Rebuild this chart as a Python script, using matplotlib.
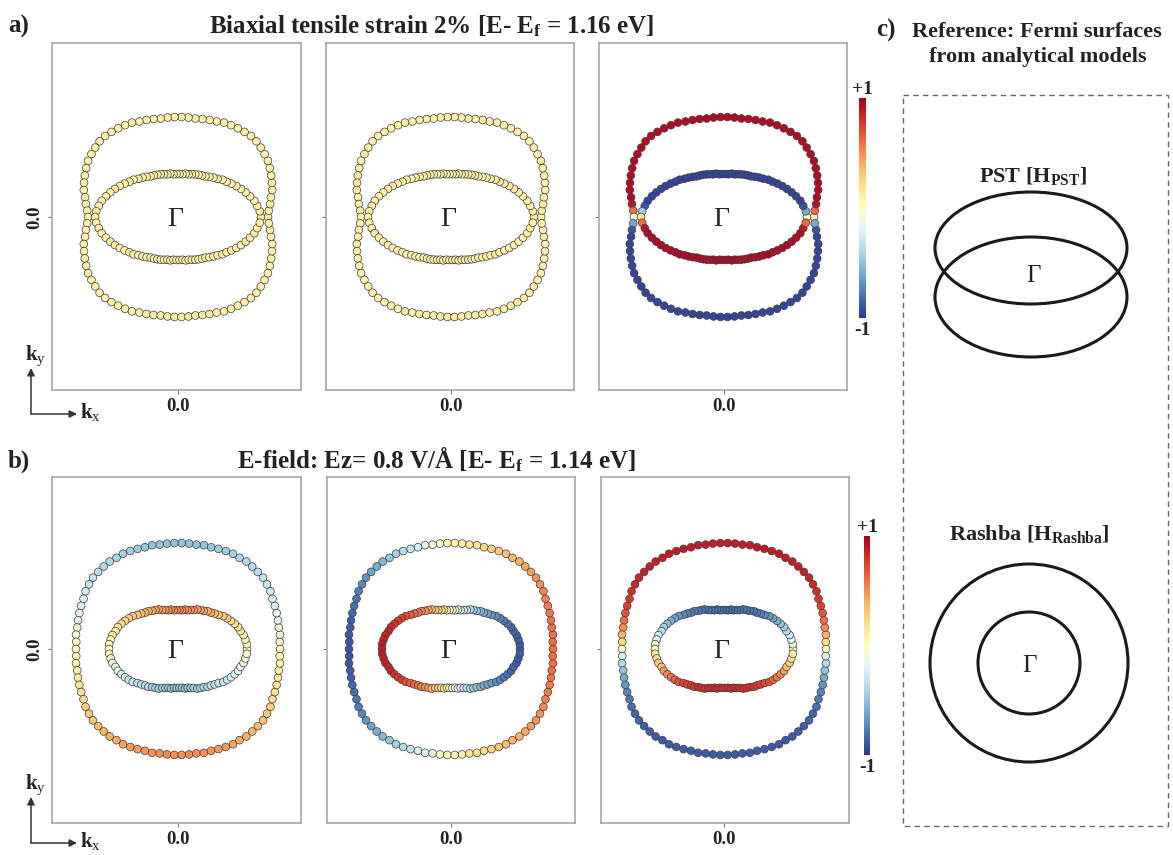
import numpy as np
import matplotlib
matplotlib.use("Agg")
import matplotlib.pyplot as plt
from matplotlib.colors import Normalize
from matplotlib.cm import ScalarMappable
from matplotlib.patches import Ellipse, Circle, Rectangle

plt.rcParams["font.family"] = ["Liberation Serif", "DejaVu Serif"]
plt.rcParams["mathtext.fontset"] = "custom"
plt.rcParams["mathtext.rm"] = "Liberation Serif"
plt.rcParams["mathtext.bf"] = "Liberation Serif:bold"
plt.rcParams["mathtext.it"] = "Liberation Serif:italic"

# ---------------------------------------------------------------------------
# Constant-energy contours: |k| sampled along an angular k-path (degrees)
# ---------------------------------------------------------------------------
k_angle_deg = np.arange(0, 360, 4)

# (a) biaxial tensile strain 2 %
kr_strain_outer = [
    0.90, 0.91, 0.93, 0.95, 0.98, 1.00, 1.02, 1.04, 1.06, 1.07, 1.08, 1.09, 1.09, 1.08, 1.07, 1.06, 1.05, 1.03, 1.02, 1.01, 1.00, 1.00, 1.00,
    1.00, 1.00, 1.00, 1.01, 1.02, 1.03, 1.05, 1.06, 1.07, 1.08, 1.09, 1.09, 1.08, 1.07, 1.06, 1.04, 1.02, 1.00, 0.98, 0.95, 0.93, 0.91,
    0.90, 0.91, 0.93, 0.95, 0.98, 1.00, 1.02, 1.04, 1.06, 1.07, 1.08, 1.09, 1.09, 1.08, 1.07, 1.06, 1.05, 1.03, 1.02, 1.01, 1.00, 1.00, 1.00,
    1.00, 1.00, 1.00, 1.01, 1.02, 1.03, 1.05, 1.06, 1.07, 1.08, 1.09, 1.09, 1.08, 1.07, 1.06, 1.04, 1.02, 1.00, 0.98, 0.95, 0.93, 0.91]
kr_strain_inner = [
    0.83, 0.82, 0.80, 0.78, 0.75, 0.72, 0.69, 0.66, 0.63, 0.60, 0.58, 0.55, 0.53, 0.51, 0.49, 0.48, 0.47, 0.46, 0.45, 0.44, 0.44, 0.43, 0.43,
    0.43, 0.43, 0.44, 0.44, 0.45, 0.46, 0.47, 0.48, 0.49, 0.51, 0.53, 0.55, 0.58, 0.60, 0.63, 0.66, 0.69, 0.72, 0.75, 0.78, 0.80, 0.82,
    0.83, 0.82, 0.80, 0.78, 0.75, 0.72, 0.69, 0.66, 0.63, 0.60, 0.58, 0.55, 0.53, 0.51, 0.49, 0.48, 0.47, 0.46, 0.45, 0.44, 0.44, 0.43, 0.43,
    0.43, 0.43, 0.44, 0.44, 0.45, 0.46, 0.47, 0.48, 0.49, 0.51, 0.53, 0.55, 0.58, 0.60, 0.63, 0.66, 0.69, 0.72, 0.75, 0.78, 0.80, 0.82]

# (b) out-of-plane electric field Ez = 0.8 V/A
kr_field_outer = [
    1.02, 1.02, 1.03, 1.03, 1.04, 1.05, 1.06, 1.07, 1.09, 1.10, 1.11, 1.11, 1.11, 1.11, 1.10, 1.10, 1.09, 1.08, 1.07, 1.07, 1.06, 1.06, 1.06,
    1.06, 1.06, 1.06, 1.07, 1.07, 1.08, 1.09, 1.10, 1.10, 1.11, 1.11, 1.11, 1.11, 1.10, 1.09, 1.07, 1.06, 1.05, 1.04, 1.03, 1.03, 1.02,
    1.02, 1.02, 1.03, 1.03, 1.04, 1.05, 1.06, 1.07, 1.09, 1.10, 1.11, 1.11, 1.11, 1.11, 1.10, 1.10, 1.09, 1.08, 1.07, 1.07, 1.06, 1.06, 1.06,
    1.06, 1.06, 1.06, 1.07, 1.07, 1.08, 1.09, 1.10, 1.10, 1.11, 1.11, 1.11, 1.11, 1.10, 1.09, 1.07, 1.06, 1.05, 1.04, 1.03, 1.03, 1.02]
kr_field_inner = [
    0.69, 0.69, 0.68, 0.67, 0.65, 0.64, 0.62, 0.60, 0.58, 0.56, 0.53, 0.51, 0.49, 0.48, 0.46, 0.45, 0.44, 0.42, 0.41, 0.40, 0.40, 0.39, 0.39,
    0.39, 0.39, 0.40, 0.40, 0.41, 0.42, 0.44, 0.45, 0.46, 0.48, 0.49, 0.51, 0.53, 0.56, 0.58, 0.60, 0.62, 0.64, 0.65, 0.67, 0.68, 0.69,
    0.69, 0.69, 0.68, 0.67, 0.65, 0.64, 0.62, 0.60, 0.58, 0.56, 0.53, 0.51, 0.49, 0.48, 0.46, 0.45, 0.44, 0.42, 0.41, 0.40, 0.40, 0.39, 0.39,
    0.39, 0.39, 0.40, 0.40, 0.41, 0.42, 0.44, 0.45, 0.46, 0.48, 0.49, 0.51, 0.53, 0.56, 0.58, 0.60, 0.62, 0.64, 0.65, 0.67, 0.68, 0.69]

# ---------------------------------------------------------------------------
# Spin expectation values along the same k-path
# ---------------------------------------------------------------------------
# (a) in-plane components are quenched (persistent spin texture)
s_inplane_strain = [
    0.10, 0.10, 0.10, 0.10, 0.10, 0.10, 0.10, 0.10, 0.10, 0.10, 0.10, 0.10, 0.10, 0.10, 0.10,
    0.10, 0.10, 0.10, 0.10, 0.10, 0.10, 0.10, 0.10, 0.10, 0.10, 0.10, 0.10, 0.10, 0.10, 0.10,
    0.10, 0.10, 0.10, 0.10, 0.10, 0.10, 0.10, 0.10, 0.10, 0.10, 0.10, 0.10, 0.10, 0.10, 0.10,
    0.10, 0.10, 0.10, 0.10, 0.10, 0.10, 0.10, 0.10, 0.10, 0.10, 0.10, 0.10, 0.10, 0.10, 0.10,
    0.10, 0.10, 0.10, 0.10, 0.10, 0.10, 0.10, 0.10, 0.10, 0.10, 0.10, 0.10, 0.10, 0.10, 0.10,
    0.10, 0.10, 0.10, 0.10, 0.10, 0.10, 0.10, 0.10, 0.10, 0.10, 0.10, 0.10, 0.10, 0.10, 0.10]
sz_strain_outer = [
    0.10, 0.60, 0.90,
    0.95, 0.95, 0.95, 0.95, 0.95, 0.95, 0.95, 0.95, 0.95, 0.95,
    0.95, 0.95, 0.95, 0.95, 0.95, 0.95, 0.95, 0.95, 0.95, 0.95,
    0.95, 0.95, 0.95, 0.95, 0.95, 0.95, 0.95, 0.95, 0.95, 0.95,
    0.95, 0.95, 0.95, 0.95, 0.95, 0.95, 0.95, 0.95, 0.95, 0.95,
    0.90, 0.60, -0.10, -0.60, -0.90,
    -0.95, -0.95, -0.95, -0.95, -0.95, -0.95, -0.95, -0.95, -0.95, -0.95,
    -0.95, -0.95, -0.95, -0.95, -0.95, -0.95, -0.95, -0.95, -0.95, -0.95,
    -0.95, -0.95, -0.95, -0.95, -0.95, -0.95, -0.95, -0.95, -0.95, -0.95,
    -0.95, -0.95, -0.95, -0.95, -0.95, -0.95, -0.95, -0.95, -0.95, -0.95,
    -0.90, -0.60]
sz_strain_inner = [
    -0.10, -0.60, -0.90,
    -0.95, -0.95, -0.95, -0.95, -0.95, -0.95, -0.95, -0.95, -0.95, -0.95,
    -0.95, -0.95, -0.95, -0.95, -0.95, -0.95, -0.95, -0.95, -0.95, -0.95,
    -0.95, -0.95, -0.95, -0.95, -0.95, -0.95, -0.95, -0.95, -0.95, -0.95,
    -0.95, -0.95, -0.95, -0.95, -0.95, -0.95, -0.95, -0.95, -0.95, -0.95,
    -0.90, -0.45, 0.15, 0.60, 0.90,
    0.95, 0.95, 0.95, 0.95, 0.95, 0.95, 0.95, 0.95, 0.95, 0.95,
    0.95, 0.95, 0.95, 0.95, 0.95, 0.95, 0.95, 0.95, 0.95, 0.95,
    0.95, 0.95, 0.95, 0.95, 0.95, 0.95, 0.95, 0.95, 0.95, 0.95,
    0.95, 0.95, 0.95, 0.95, 0.95, 0.95, 0.95, 0.95, 0.95, 0.95,
    0.90, 0.60]

# (b) Rashba-like spin texture
sx_field_outer = [
    0.00, -0.04, -0.07, -0.10, -0.14, -0.17, -0.20, -0.23, -0.27, -0.29, -0.32, -0.35, -0.37, -0.39, -0.41, -0.43, -0.45, -0.46, -0.48, -0.49, -0.49, -0.50, -0.50,
    -0.50, -0.50, -0.49, -0.49, -0.48, -0.46, -0.45, -0.43, -0.41, -0.39, -0.37, -0.35, -0.32, -0.29, -0.27, -0.23, -0.20, -0.17, -0.14, -0.10, -0.07, -0.04,
    0.00, 0.04, 0.07, 0.10, 0.14, 0.17, 0.20, 0.23, 0.27, 0.29, 0.32, 0.35, 0.37, 0.39, 0.41, 0.43, 0.45, 0.46, 0.48, 0.49, 0.49, 0.50, 0.50,
    0.50, 0.50, 0.49, 0.49, 0.48, 0.46, 0.45, 0.43, 0.41, 0.39, 0.37, 0.35, 0.32, 0.29, 0.27, 0.23, 0.20, 0.17, 0.14, 0.10, 0.07, 0.04]
sx_field_inner = [
    0.00, 0.04, 0.07, 0.10, 0.14, 0.17, 0.20, 0.23, 0.27, 0.29, 0.32, 0.35, 0.37, 0.39, 0.41, 0.43, 0.45, 0.46, 0.48, 0.49, 0.49, 0.50, 0.50,
    0.50, 0.50, 0.49, 0.49, 0.48, 0.46, 0.45, 0.43, 0.41, 0.39, 0.37, 0.35, 0.32, 0.29, 0.27, 0.23, 0.20, 0.17, 0.14, 0.10, 0.07, 0.04,
    0.00, -0.04, -0.07, -0.10, -0.14, -0.17, -0.20, -0.23, -0.27, -0.29, -0.32, -0.35, -0.37, -0.39, -0.41, -0.43, -0.45, -0.46, -0.48, -0.49, -0.49, -0.50, -0.50,
    -0.50, -0.50, -0.49, -0.49, -0.48, -0.46, -0.45, -0.43, -0.41, -0.39, -0.37, -0.35, -0.32, -0.29, -0.27, -0.23, -0.20, -0.17, -0.14, -0.10, -0.07, -0.04]
sy_field_outer = [
    0.60, 0.60, 0.59, 0.59, 0.58, 0.57, 0.55, 0.54, 0.52, 0.49, 0.47, 0.45, 0.42, 0.39, 0.36, 0.33, 0.29, 0.26, 0.22, 0.18, 0.15, 0.11, 0.07,
    0.02, -0.05, -0.12, -0.18, -0.24, -0.31, -0.37, -0.43, -0.48, -0.54, -0.59, -0.63, -0.68, -0.72, -0.76, -0.79, -0.82, -0.84, -0.86, -0.88, -0.89, -0.90,
    -0.90,
    -0.90, -0.89, -0.88, -0.86, -0.84, -0.82, -0.79, -0.76, -0.72, -0.68, -0.63, -0.59, -0.54, -0.48, -0.43, -0.37, -0.31, -0.24, -0.18, -0.12, -0.05, 0.02,
    0.07, 0.11, 0.15, 0.18, 0.22, 0.26, 0.29, 0.33, 0.36, 0.39, 0.42, 0.45, 0.47, 0.49, 0.52, 0.54, 0.55, 0.57, 0.58, 0.59, 0.59, 0.60]
sy_field_inner = [
    -0.88, -0.88, -0.87, -0.86, -0.85, -0.83, -0.80, -0.78, -0.75, -0.71, -0.67, -0.63, -0.59, -0.54, -0.49, -0.44, -0.39, -0.33, -0.27, -0.21, -0.15, -0.09, -0.03,
    0.03, 0.09, 0.15, 0.21, 0.27, 0.33, 0.39, 0.44, 0.49, 0.54, 0.59, 0.63, 0.67, 0.71, 0.75, 0.78, 0.80, 0.83, 0.85, 0.86, 0.87, 0.88,
    0.88,
    0.88, 0.87, 0.86, 0.85, 0.83, 0.80, 0.78, 0.75, 0.71, 0.67, 0.63, 0.59, 0.54, 0.49, 0.44, 0.39, 0.33, 0.27, 0.21, 0.15, 0.09, 0.03,
    -0.03, -0.09, -0.15, -0.21, -0.27, -0.33, -0.39, -0.44, -0.49, -0.54, -0.59, -0.63, -0.67, -0.71, -0.75, -0.78, -0.80, -0.83, -0.85, -0.86, -0.87, -0.88]
sz_field_outer = [
    0.02, 0.22, 0.38, 0.50, 0.60, 0.68, 0.74, 0.78, 0.81, 0.83, 0.85, 0.86, 0.87, 0.87, 0.88, 0.88, 0.88, 0.88, 0.88, 0.88, 0.88, 0.88, 0.88,
    0.88, 0.88, 0.88, 0.88, 0.88, 0.88, 0.88, 0.88, 0.88, 0.87, 0.87, 0.86, 0.85, 0.83, 0.81, 0.78, 0.74, 0.68, 0.60, 0.50, 0.38, 0.22,
    -0.02, -0.22, -0.38, -0.50, -0.60, -0.68, -0.74, -0.78, -0.81, -0.83, -0.85, -0.86, -0.87, -0.87, -0.88, -0.88, -0.88, -0.88, -0.88, -0.88, -0.88, -0.88, -0.88,
    -0.88, -0.88, -0.88, -0.88, -0.88, -0.88, -0.88, -0.88, -0.88, -0.87, -0.87, -0.86, -0.85, -0.83, -0.81, -0.78, -0.74, -0.68, -0.60, -0.50, -0.38, -0.22]
sz_field_inner = [
    0.00, -0.10, -0.20, -0.28, -0.35, -0.44, -0.52, -0.58, -0.64, -0.68, -0.72, -0.75, -0.77, -0.78, -0.79, -0.80, -0.80, -0.81, -0.81, -0.81, -0.81, -0.81, -0.81,
    -0.81, -0.81, -0.81, -0.81, -0.81, -0.81, -0.80, -0.80, -0.79, -0.78, -0.77, -0.75, -0.72, -0.68, -0.64, -0.58, -0.52, -0.44, -0.35, -0.28, -0.20, -0.10,
    0.05, 0.10, 0.20, 0.28, 0.35, 0.44, 0.52, 0.58, 0.64, 0.68, 0.72, 0.75, 0.77, 0.78, 0.79, 0.80, 0.80, 0.81, 0.81, 0.81, 0.81, 0.81, 0.81,
    0.81, 0.81, 0.81, 0.81, 0.81, 0.81, 0.80, 0.80, 0.79, 0.78, 0.77, 0.75, 0.72, 0.68, 0.64, 0.58, 0.52, 0.44, 0.35, 0.28, 0.20, 0.10]

spin_labels = ["x", "y", "z"]
panel_titles = ["Biaxial tensile strain 2% [E- E$_{\\mathbf{f}}$ = 1.16 eV]",
                "E-field: Ez= 0.8 V/Å [E- E$_{\\mathbf{f}}$ = 1.14 eV]"]
tick_text = "0.0"

# Reference analytical Fermi contours (panel c, schematic)
pst_centers = [(1031, 248), (1031, 297)]
pst_axes = [(192, 112), (192, 120)]
rashba_center = (1029, 663)
rashba_radii = [99, 51]

# ---------------------------------------------------------------------------
W, H = 1173, 855
fig = plt.figure(figsize=(W / 100, H / 100), dpi=100)
TXT = "#222222"
cmap = plt.get_cmap("RdYlBu_r")
norm = Normalize(vmin=-1, vmax=1)


def px_axes(x0, y0, x1, y1):
    return fig.add_axes([x0 / W, 1 - y1 / H, (x1 - x0) / W, (y1 - y0) / H])


ov = px_axes(0, 0, W, H)
ov.set_xlim(0, W)
ov.set_ylim(H, 0)
ov.axis("off")


def contour(kr):
    t = np.deg2rad(k_angle_deg)
    r = np.asarray(kr)
    return r * np.cos(t), r * np.sin(t)


def spin_panel(box, origin, kr_out, kr_in, s_out, s_in, comp, show_ylabel, lab_dx):
    x0, y0, x1, y1 = box
    ox, oy = origin
    ax = px_axes(x0, y0, x1, y1)
    for kr, s in ((kr_out, s_out), (kr_in, s_in)):
        kx, ky = contour(kr)
        ax.scatter(kx, ky, c=s, cmap=cmap, norm=norm, s=31,
                   edgecolors="#3c3c3c", linewidths=0.5, zorder=3)
    ax.set_xlim((x0 - ox) / 100, (x1 - ox) / 100)
    ax.set_ylim((oy - y1) / 100, (oy - y0) / 100)
    ax.set_xticks([0.0])
    ax.set_xticklabels([tick_text], fontweight="bold", fontsize=13.5)
    ax.set_yticks([0.0])
    if show_ylabel:
        ax.set_yticklabels([tick_text], rotation=90, va="center",
                           fontweight="bold", fontsize=13.5)
    else:
        ax.set_yticklabels([])
    ax.tick_params(length=3, width=0.8, color="#777777", labelcolor=TXT, pad=3)
    for sp in ax.spines.values():
        sp.set_color("#a6a6a6")
        sp.set_linewidth(1.2)
    ax.text(-0.03, -0.09, "Γ", ha="center", va="baseline", fontsize=20, color=TXT)
    ov.text(x1 - lab_dx, y0 + 23, "<$\\mathbf{S}_{\\mathrm{%s}}$>" % comp,
            ha="center", va="baseline", fontsize=16, color=TXT)
    return ax


# panel a
a_boxes = [(52, 43, 301, 390), (326, 43, 574, 390), (599, 43, 847, 390)]
a_origins = [(178, 217), (451, 217), (724, 217)]
a_spins = [(s_inplane_strain, s_inplane_strain),
           (s_inplane_strain, s_inplane_strain),
           (sz_strain_outer, sz_strain_inner)]
for i in range(3):
    spin_panel(a_boxes[i], a_origins[i], kr_strain_outer, kr_strain_inner,
               a_spins[i][0], a_spins[i][1], spin_labels[i], i == 0, 42)

# panel b
b_boxes = [(52, 477, 301, 823), (327, 477, 575, 823), (601, 477, 849, 823)]
b_origins = [(178, 649), (451, 649), (724, 649)]
b_spins = [(sx_field_outer, sx_field_inner),
           (sy_field_outer, sy_field_inner),
           (sz_field_outer, sz_field_inner)]
for i in range(3):
    spin_panel(b_boxes[i], b_origins[i], kr_field_outer, kr_field_inner,
               b_spins[i][0], b_spins[i][1], spin_labels[i], i == 0, 44)

# colour bars
for (x0, y0, x1, y1) in [(859, 98, 866, 318), (864, 536, 870, 755)]:
    cax = px_axes(x0, y0, x1, y1)
    cb = fig.colorbar(ScalarMappable(norm=norm, cmap=cmap), cax=cax)
    cb.set_ticks([])
    cb.outline.set_visible(False)
    xc = (x0 + x1) / 2
    ov.text(xc, y0 - 4, "+1", ha="center", va="baseline", fontsize=14,
            fontweight="bold", color=TXT)
    ov.text(xc, y1 + 17, "-1", ha="center", va="baseline", fontsize=14,
            fontweight="bold", color=TXT)

# kx / ky direction arrows
for cy in (414, 843):
    arrow = dict(arrowstyle="-|>", color="#333333", lw=1.1, mutation_scale=11,
                 shrinkA=0, shrinkB=0)
    ov.annotate("", xy=(31, cy - 46), xytext=(31, cy), arrowprops=arrow)
    ov.annotate("", xy=(77, cy), xytext=(31, cy), arrowprops=arrow)
    ov.text(25, cy - 54, "$\\mathbf{k}_{\\mathrm{y}}$", fontsize=15,
            va="baseline", color=TXT)
    ov.text(80, cy + 4, "$\\mathbf{k}_{\\mathrm{x}}$", fontsize=15,
            va="baseline", color=TXT)

# panel letters and headings
ov.text(8, 33, "a)", fontsize=18, fontweight="bold", va="baseline", color=TXT)
ov.text(432, 33, panel_titles[0], fontsize=18, fontweight="bold", ha="center",
        va="baseline", color=TXT)
ov.text(8, 468, "b)", fontsize=18, fontweight="bold", va="baseline", color=TXT)
ov.text(437, 468, panel_titles[1], fontsize=18, fontweight="bold", ha="center",
        va="baseline", color=TXT)
ov.text(876, 37, "c)", fontsize=18, fontweight="bold", va="baseline", color=TXT)
ov.text(1037, 37, "Reference: Fermi surfaces", fontsize=16, fontweight="bold",
        ha="center", va="baseline", color=TXT)
ov.text(1038, 62, "from analytical models", fontsize=16, fontweight="bold",
        ha="center", va="baseline", color=TXT)

# panel c: analytical reference contours
ov.add_patch(Rectangle((903, 95), 265, 731, fill=False, ls=(0, (4, 3)),
                       lw=1.0, ec="#666666"))
ov.text(1033, 182, "PST [H$_{\\mathbf{PST}}$]", fontsize=16, fontweight="bold",
        ha="center", va="baseline", color=TXT)
for (cx, cy), (w, h) in zip(pst_centers, pst_axes):
    ov.add_patch(Ellipse((cx, cy), w, h, fill=False, lw=2.2, ec="#1a1a1a"))
ov.text(1033, 282, "Γ", fontsize=18, ha="center", va="baseline", color=TXT)

ov.text(1029, 540, "Rashba [H$_{\\mathbf{Rashba}}$]", fontsize=16,
        fontweight="bold", ha="center", va="baseline", color=TXT)
for r in rashba_radii:
    ov.add_patch(Circle(rashba_center, r, fill=False, lw=2.2, ec="#1a1a1a"))
ov.text(rashba_center[0], rashba_center[1] + 9, "Γ", fontsize=18, ha="center",
        va="baseline", color=TXT)

fig.savefig("out.png", dpi=100)
